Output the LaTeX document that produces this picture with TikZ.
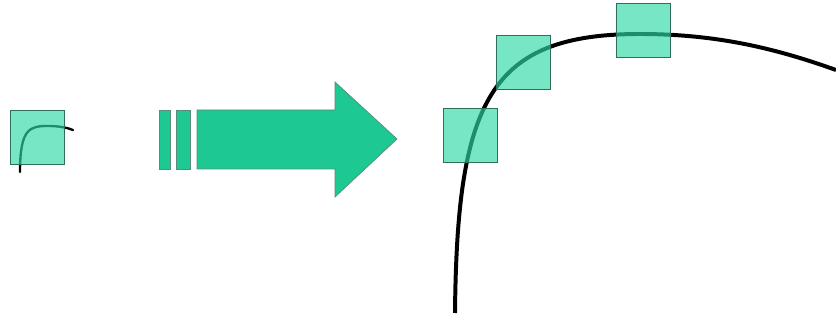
\documentclass[tikz,border=0pt]{standalone}
\usepackage{tikz}
\usetikzlibrary{positioning}
\definecolor{tealfill}{HTML}{2ED9A6}
\definecolor{arrowfill}{HTML}{1DC893}
\definecolor{tealedge}{HTML}{2F6F5A}

\begin{document}
\begin{tikzpicture}[x=0.03cm,y=-0.03cm,
    probe/.style={draw=tealedge,line width=0.6pt,fill=tealfill,fill opacity=0.65,
        minimum size=1.62cm,inner sep=0pt},
    bigarrow/.style={draw=tealedge!80,line width=0.6pt,fill=arrowfill}]
    \useasboundingbox (0,0) rectangle (836,320);
    % small picture on the left
    \draw[line width=2pt,line cap=round] (20,172) .. controls (20,128) and (30,126) .. (48,126)
        .. controls (60,126) and (68,128) .. (73,130);
    \node[probe] (small) at (37.5,137) {};
    % zoom arrow
    \draw[bigarrow] (159,110) rectangle (170,169);
    \draw[bigarrow] (176,110) rectangle (190,169);
    \draw[bigarrow] (197,110) -- (335,110) -- (335,82) -- (397,139) -- (335,197)
        -- (335,169) -- (197,169) -- cycle;
    % enlarged curve
    \draw[line width=3.4pt] (455,313) .. controls (457,100) and (490,34) .. (640,34)
        .. controls (720,34) and (780,50) .. (836,70);
    \node[probe] (lower) at (470,135.5) {};
    \node[probe] (middle) at (523,62) {};
    \node[probe] (upper) at (643,30) {};
\end{tikzpicture}
\end{document}
